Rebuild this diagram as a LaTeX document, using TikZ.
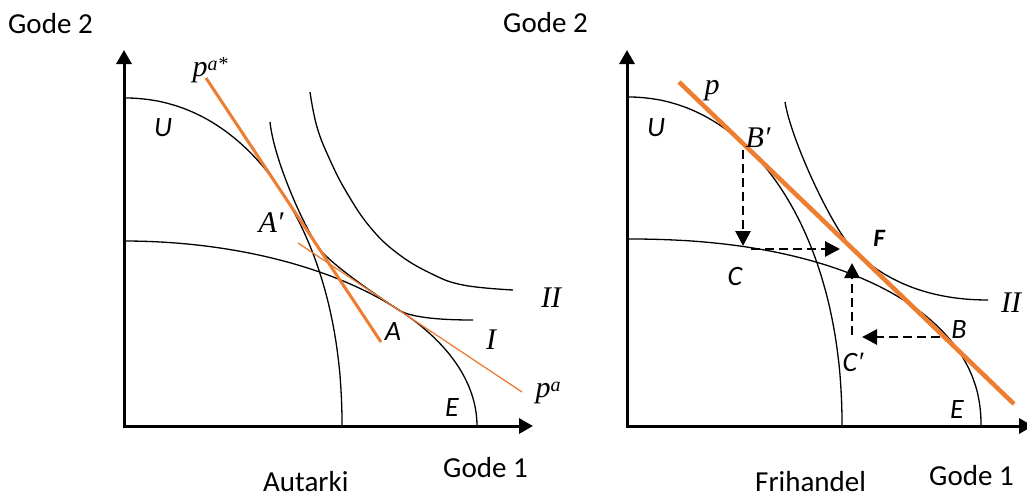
\documentclass[tikz,border=0pt]{standalone}
\usepackage{fontspec}
\setmainfont{Carlito}
\newfontfamily\serifit{Liberation Serif}
\usetikzlibrary{arrows.meta}
\definecolor{orng}{RGB}{237,125,49}
\newcommand{\supx}[1]{\raisebox{0.22em}{\fontsize{20}{22}\selectfont #1}}
\tikzset{
  axisline/.style={line width=3pt, line join=miter, {Triangle[length=14pt,width=15pt]}-{Triangle[length=14pt,width=15pt]}},
  curve/.style={line width=1.3pt},
  dasharrow/.style={line width=2.8pt, dash pattern=on 9pt off 5pt, -{Triangle[length=15pt,width=15pt]}},
  txt/.style={inner sep=0pt, anchor=base west, font=\fontsize{29}{34}\selectfont},
  sit/.style={inner sep=0pt, font=\fontsize{28}{32}\selectfont\itshape},
  mit/.style={inner sep=0pt, font=\fontsize{30}{34}\selectfont\serifit\itshape},
  pthick/.style={draw=orng, line width=3pt},
  pthin/.style={draw=orng, line width=1.3pt},
  pfat/.style={draw=orng, line width=4.5pt}
}
\begin{document}
\begin{tikzpicture}[x=1pt,y=-1pt]
\useasboundingbox (0,0) rectangle (1027,498);
% ---------- left panel: Autarki ----------
\coordinate (Y1) at (124,50);
\coordinate (O1) at (124,426);
\coordinate (X1) at (533,426);
\draw[axisline] (Y1) -- (O1) -- (X1);
% U (steep PPF)
\draw[curve] plot[domain=0:90, samples=90, variable=\t]
  ({124+218*pow(max(cos(\t),0.0001),2/2.1)},{426-328*pow(max(sin(\t),0.0001),2/2.1)});
% E (flat PPF)
\draw[curve] plot[domain=0:90, samples=90, variable=\t]
  ({124+353*cos(\t)},{426-185*sin(\t)});
% indifference curve I
\draw[curve] (270,122) .. controls (274,160) and (303,224.3) .. (318,246.9)
  .. controls (325.4,258.1) and (352.1,279.0) .. (398,309.6)
  .. controls (408.5,316.5) and (433.5,320) .. (473,320);
% indifference curve II
\draw[curve] plot[smooth, tension=0.7] coordinates {(310,92) (317,127) (330,160) (347,193) (370,227) (397,253) (430,273) (463,285) (513,290)};
% price lines
\coordinate (pas1) at (206,78);
\coordinate (pas2) at (381,342);
\draw[pthick] (pas1) -- (pas2);
\coordinate (pa1) at (298,243);
\coordinate (pa2) at (522,392);
\draw[pthin] (pa1) -- (pa2);
% labels
\node[txt] (g2a) at (8,33) {Gode 2};
\node[txt] (g1a) at (443,477) {Gode 1};
\node[txt] (aut) at (263,491) {Autarki};
\node[mit] (lpas) at (210,70) {p\supx{a*}};
\node[sit] (lU1) at (163,128) {U};
\node[mit] (lAp) at (271,223) {A′};
\node[sit] (lA) at (393,332) {A};
\node[mit] (lI) at (491,340) {I};
\node[mit] (lII1) at (551,298) {II};
\node[mit] (lpa) at (548,393) {p\supx{a}};
\node[sit] (lE1) at (452,408) {E};
% ---------- right panel: Frihandel ----------
\coordinate (Y2) at (627,50);
\coordinate (O2) at (627,426);
\coordinate (X2) at (1033,426);
\draw[axisline] (Y2) -- (O2) -- (X2);
\draw[curve] plot[domain=0:90, samples=90, variable=\t]
  ({627+215*pow(max(cos(\t),0.0001),2/2.1)},{426-329*pow(max(sin(\t),0.0001),2/2.1)});
\draw[curve] plot[domain=0:90, samples=90, variable=\t]
  ({627+354*pow(max(cos(\t),0.0001),2/2.2)},{426-187*pow(max(sin(\t),0.0001),2/2.2)});
\draw[curve] (785,102) .. controls (791,140) and (833,230.5) .. (855,251.6)
  .. controls (888.9,283.9) and (933.2,300) .. (988,300);
\coordinate (p1) at (679,82);
\coordinate (p2) at (1014,404);
\draw[pfat] (p1) -- (p2);
% trade arrows
\coordinate (Bp) at (743,150);
\coordinate (C) at (743,246);
\coordinate (Cs) at (751,249);
\coordinate (Ct) at (840,249);
\coordinate (B) at (940,337);
\coordinate (Bt) at (862,337);
\coordinate (Cp) at (852,335);
\coordinate (Cpt) at (852,263);
\draw[dasharrow] (Bp) -- (C);
\draw[dasharrow] (Cs) -- (Ct);
\draw[dasharrow] (B) -- (Bt);
\draw[dasharrow] (Cp) -- (Cpt);
% labels
\node[txt] (g2b) at (503,32) {Gode 2};
\node[txt] (g1b) at (929,485) {Gode 1};
\node[txt] (fri) at (755,491) {Frihandel};
\node[mit] (lp) at (712,91) {p};
\node[sit] (lU2) at (656,128) {U};
\node[mit] (lBp) at (758,138) {B′};
\node[sit, font=\fontsize{25}{30}\selectfont\bfseries\itshape] (lF) at (879,238) {F};
\node[sit] (lC) at (735,277) {C};
\node[sit] (lCp) at (853,362) {C{\serifit\itshape ′}};
\node[sit] (lB) at (959,330) {B};
\node[sit] (lE2) at (957,410) {E};
\node[mit] (lII2) at (1011,303) {II};
\end{tikzpicture}
\end{document}
